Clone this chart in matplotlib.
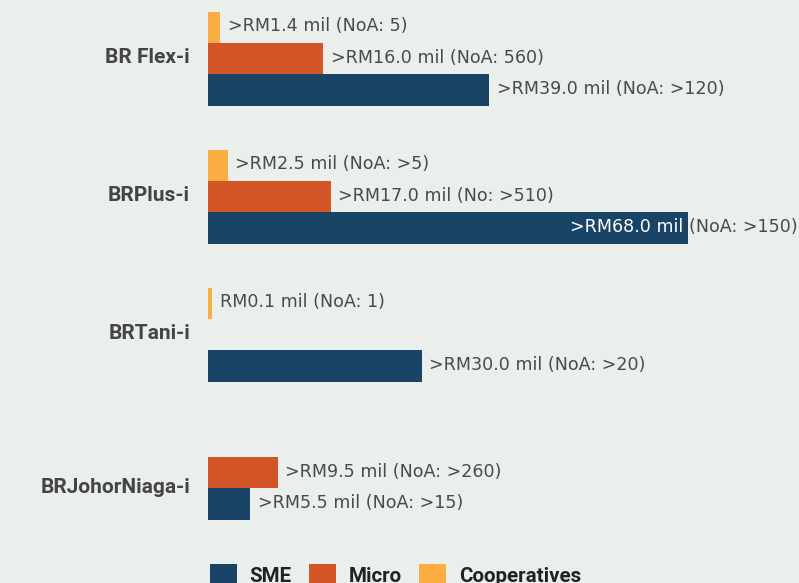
import matplotlib
matplotlib.use("Agg")
import matplotlib.pyplot as plt
from matplotlib.patches import Patch
import numpy as np

# ---- data ----
categories = ["BR Flex-i", "BRPlus-i", "BRTani-i", "BRJohorNiaga-i"]
series_names = ["SME", "Micro", "Cooperatives"]
sme_values = [39.9, 68.0, 30.3, 6.0]
micro_values = [16.3, 17.4, 0.0, 9.9]
coop_values = [1.7, 2.8, 0.55, 0.0]
sme_labels = [">RM39.0 mil (NoA: >120)", ">RM68.0 mil (NoA: >150)",
              ">RM30.0 mil (NoA: >20)", ">RM5.5 mil (NoA: >15)"]
micro_labels = [">RM16.0 mil (NoA: 560)", ">RM17.0 mil (No: >510)",
                "", ">RM9.5 mil (NoA: >260)"]
coop_labels = [">RM1.4 mil (NoA: 5)", ">RM2.5 mil (NoA: >5)",
               "RM0.1 mil (NoA: 1)", ""]

colors = {"SME": "#1a4466", "Micro": "#d15527", "Cooperatives": "#fbad41"}
bg = "#eaefeb"

W, H = 799, 583
fig = plt.figure(figsize=(W / 100, H / 100), dpi=100, facecolor=bg)
ax = fig.add_axes([208 / W, 0, 1 - 208 / W, 1])
ax.set_facecolor(bg)

h = 0.227
y = np.arange(len(categories))
series = [
    ("Cooperatives", coop_values, coop_labels, -h),
    ("Micro", micro_values, micro_labels, 0.0),
    ("SME", sme_values, sme_labels, h),
]

ax.set_xlim(0, 83.8)
ax.set_ylim(3.80, -0.4257)

val_font = dict(family="DejaVu Sans", fontsize=12.6)
txt_col = "#4a4a4a"

fig.canvas.draw()
renderer = fig.canvas.get_renderer()
ax_right_px = ax.transAxes.transform((1, 0))[0]

for name, vals, labels, off in series:
    for i, (v, lab) in enumerate(zip(vals, labels)):
        if v <= 0:
            continue
        ax.barh(y[i] + off, v, height=h, color=colors[name], linewidth=0)
        if not lab:
            continue
        t = ax.annotate(lab, (v, y[i] + off), xytext=(5.5, 2.2),
                        textcoords="offset points", va="center_baseline",
                        ha="left", color=txt_col, **val_font)
        bb = t.get_window_extent(renderer)
        if bb.x1 > ax_right_px:
            t.remove()
            inner, outer = lab.split(" (", 1)
            ax.annotate(inner, (v, y[i] + off), xytext=(-3, 2.2),
                        textcoords="offset points", va="center_baseline",
                        ha="right", color="white", **val_font)
            ax.annotate("(" + outer, (v, y[i] + off), xytext=(1.2, 2.2),
                        textcoords="offset points", va="center_baseline",
                        ha="left", color=txt_col, **val_font)

# category labels: centred on the bars present in each group
for i, cat in enumerate(categories):
    present = [off for name, vals, labels, off in series if vals[i] > 0]
    yc = y[i] + np.mean(present)
    ax.annotate(cat, (0, yc), xytext=(-13, 2.2), textcoords="offset points",
                ha="right", va="center_baseline", fontsize=15,
                fontweight="bold", family="Roboto", color="#444444",
                annotation_clip=False)

ax.set_xticks([])
ax.set_yticks([])
for s in ax.spines.values():
    s.set_visible(False)

handles = [Patch(facecolor=colors[n], edgecolor="none") for n in series_names]
leg = fig.legend(handles, series_names, loc="upper center",
                 bbox_to_anchor=(395.5 / W, 1 - 564 / H), ncol=3, frameon=False,
                 prop=dict(family="Roboto", weight="bold", size=14.8),
                 handlelength=1.32, handleheight=1.3, handletextpad=0.6,
                 columnspacing=0.85, borderaxespad=0, borderpad=0)
for t in leg.get_texts():
    t.set_color("#222222")

fig.savefig("out.png", dpi=100, facecolor=bg)
